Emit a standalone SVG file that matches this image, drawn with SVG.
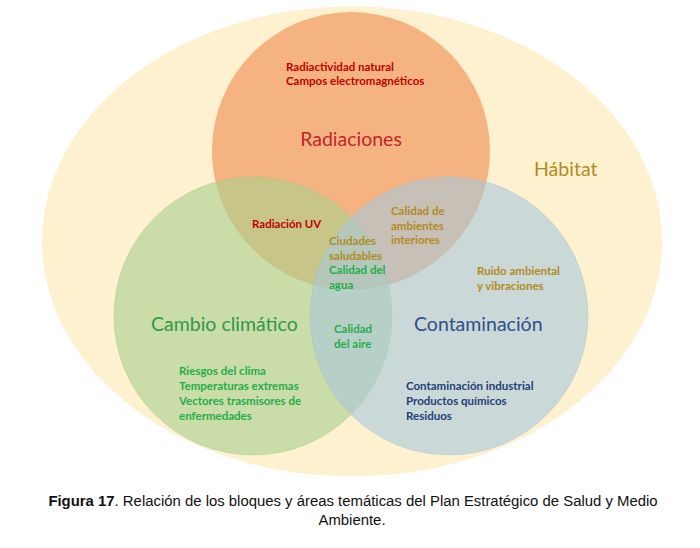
<svg xmlns="http://www.w3.org/2000/svg" width="700" height="548" viewBox="0 0 700 548">
<style>
.big{font-family:Lato,"Open Sans",sans-serif;font-size:19.5px}
.sm{font-family:Lato,"Open Sans",sans-serif;font-size:11.5px;font-weight:bold}
.red{fill:#c00000}
.gold{fill:#b38b1d}
.grn{fill:#1fae4a}
.blu{fill:#23407a}
.cap{font-family:"Liberation Sans",Arial,sans-serif;font-size:14.9px;fill:#111}
</style>
<rect width="700" height="548" fill="#ffffff"/>
<g id="habitat">
<ellipse cx="352" cy="241.5" rx="310" ry="235" fill="#fdf1d0"/>
<text class="big gold" x="534" y="176">Hábitat</text>
</g>
<g id="radiaciones">
<circle cx="351" cy="151" r="139" fill="#f5b381"/>
</g>
<g id="cambio">
<circle cx="253" cy="316" r="139" fill="#a9d18e" fill-opacity="0.6" stroke="#9cc27f" stroke-opacity="0.5" stroke-width="0.8"/>
</g>
<g id="contaminacion">
<circle cx="449" cy="316" r="139" fill="#a9c8dc" fill-opacity="0.6" stroke="#a3bccb" stroke-opacity="0.5" stroke-width="0.8"/>
</g>
<g id="labels">
<text class="sm red" x="286" y="71">Radiactividad natural</text>
<text class="sm red" x="286" y="85">Campos electromagnéticos</text>
<text class="big" x="351" y="146" text-anchor="middle" fill="#c0262b">Radiaciones</text>
<text class="sm red" x="252" y="228">Radiación UV</text>
<text class="sm gold" x="391" y="215">Calidad de</text>
<text class="sm gold" x="391" y="230">ambientes</text>
<text class="sm gold" x="391" y="244">interiores</text>
<text class="sm gold" x="329" y="245">Ciudades</text>
<text class="sm gold" x="329" y="260">saludables</text>
<text class="sm grn" x="329" y="274">Calidad del</text>
<text class="sm grn" x="329" y="289">agua</text>
<text class="sm gold" x="477" y="275">Ruido ambiental</text>
<text class="sm gold" x="477" y="290">y vibraciones</text>
<text class="big" x="151" y="331" fill="#2e9a45">Cambio climático</text>
<text class="big" x="414" y="331" fill="#2f4f8f">Contaminación</text>
<text class="sm grn" x="334" y="333">Calidad</text>
<text class="sm grn" x="334" y="348">del aire</text>
<text class="sm grn" x="179" y="375">Riesgos del clima</text>
<text class="sm grn" x="179" y="390">Temperaturas extremas</text>
<text class="sm grn" x="179" y="405">Vectores trasmisores de</text>
<text class="sm grn" x="179" y="420">enfermedades</text>
<text class="sm blu" x="406" y="390">Contaminación industrial</text>
<text class="sm blu" x="406" y="405">Productos químicos</text>
<text class="sm blu" x="406" y="420">Residuos</text>
</g>
<g id="caption">
<text class="cap" x="353" y="506" text-anchor="middle"><tspan font-weight="bold">Figura 17</tspan>. Relación de los bloques y áreas temáticas del Plan Estratégico de Salud y Medio</text>
<text class="cap" x="352" y="525" text-anchor="middle">Ambiente.</text>
</g>
</svg>
